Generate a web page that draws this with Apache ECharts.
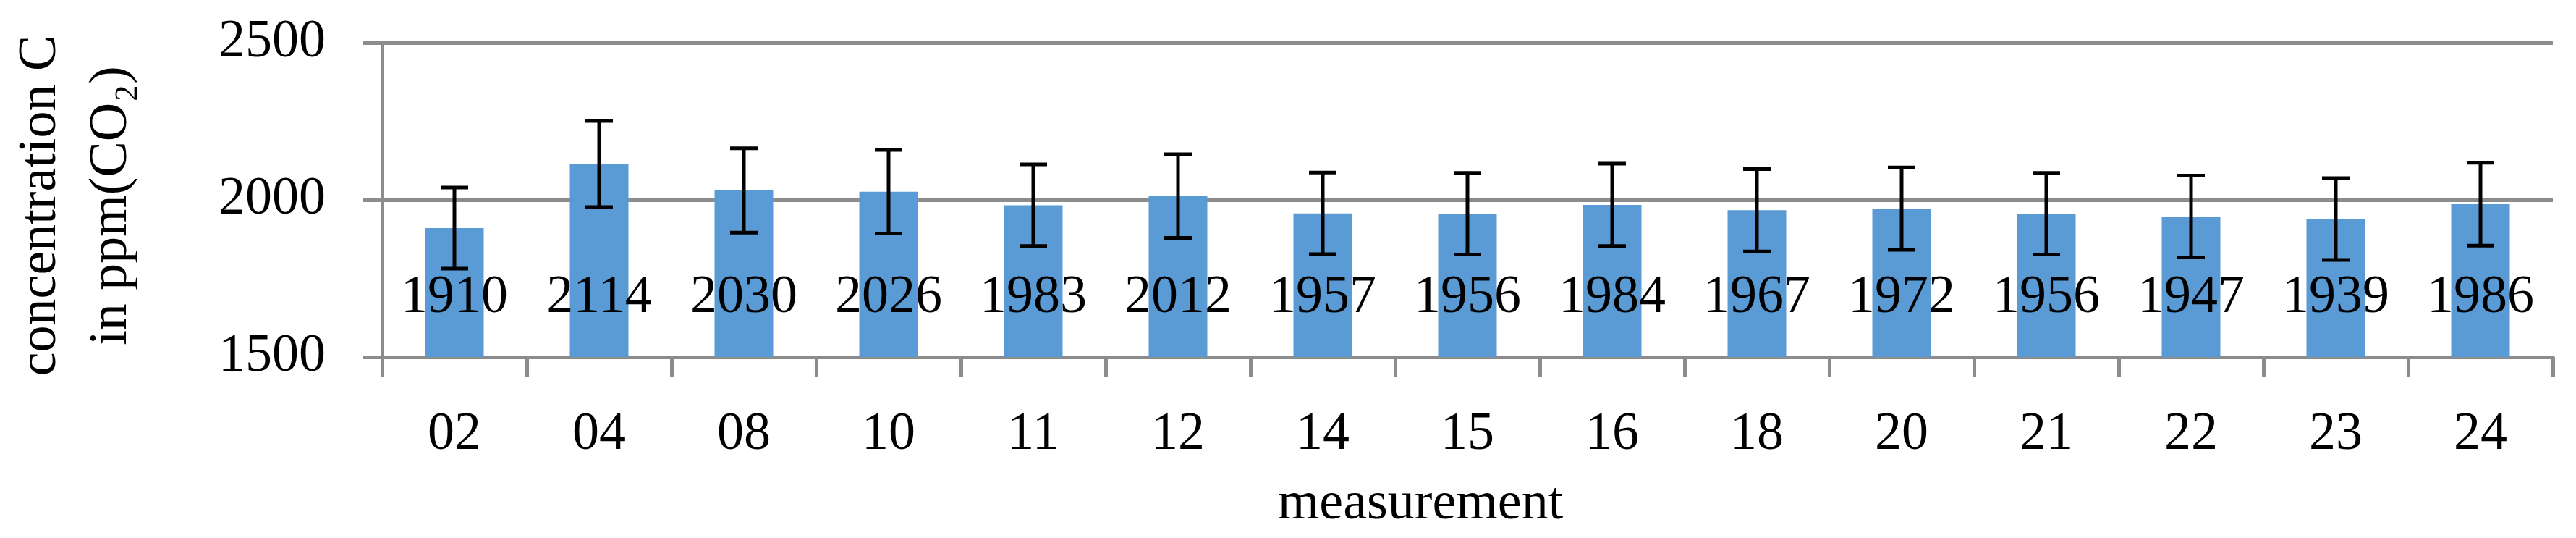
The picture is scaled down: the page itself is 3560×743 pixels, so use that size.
<!DOCTYPE html>
<html>
<head>
<meta charset="utf-8">
<script src="https://cdn.jsdelivr.net/npm/echarts@6/dist/echarts.min.js"></script>
<style>
html,body{margin:0;padding:0;background:#fff;}
#chart{width:3560px;height:743px;}
</style>
</head>
<body>
<div id="chart"></div>
<script>
// ---- data ----
const categories = ['02','04','08','10','11','12','14','15','16','18','20','21','22','23','24'];
const values = [1910,2114,2030,2026,1983,2012,1957,1956,1984,1967,1972,1956,1947,1939,1986];
const errors = [129,137,134,133,130,133,130,130,131,131,131,130,130,130,132];
const yMin = 1500;
const yMax = 2500;
const yStep = 500;
const xTitle = 'measurement';
const yTitle = 'concentration C\nin ppm(CO\u2082)';

const FONT = '"Liberation Serif", "DejaVu Serif", "Times New Roman", serif';
const GRID = '#8c8c8c';

const chart = echarts.init(document.getElementById('chart'), null, {renderer: 'canvas'});

const errData = categories.map((c, i) => [i, values[i], errors[i]]);

function renderErr(params, api) {
  const i = api.value(0), v = api.value(1), e = api.value(2);
  const top = api.coord([i, v + e]);
  const bot = api.coord([i, v - e]);
  const hw = 19;
  const st = {stroke: '#000', lineWidth: 5};
  return {
    type: 'group',
    children: [
      {type: 'line', shape: {x1: top[0], y1: top[1], x2: bot[0], y2: bot[1]}, style: st},
      {type: 'line', shape: {x1: top[0] - hw, y1: top[1], x2: top[0] + hw, y2: top[1]}, style: st},
      {type: 'line', shape: {x1: bot[0] - hw, y1: bot[1], x2: bot[0] + hw, y2: bot[1]}, style: st}
    ]
  };
}

chart.setOption({
  animation: false,
  backgroundColor: '#fff',
  textStyle: {fontFamily: FONT, color: '#000'},
  grid: {left: 528, right: 32, top: 59, bottom: 250, containLabel: false},
  xAxis: {
    type: 'category',
    data: categories,
    boundaryGap: true,
    name: xTitle,
    nameLocation: 'middle',
    nameGap: 167,
    nameTextStyle: {fontFamily: FONT, fontSize: 74, color: '#000', padding: [0, 130, 0, 0]},
    axisLine: {show: true, lineStyle: {color: GRID, width: 5}},
    axisTick: {show: true, alignWithLabel: false, length: 27, lineStyle: {color: GRID, width: 5}},
    axisLabel: {fontFamily: FONT, fontSize: 74, color: '#000', margin: 71, interval: 0},
    splitLine: {show: false}
  },
  yAxis: {
    type: 'value',
    min: yMin,
    max: yMax,
    interval: yStep,
    name: yTitle,
    nameLocation: 'middle',
    nameRotate: 90,
    nameGap: 324,
    nameTextStyle: {
      fontFamily: FONT, fontSize: 74, lineHeight: 98, color: '#000',
      align: 'center', padding: [0, 16, 0, 0]
    },
    axisLine: {show: true, lineStyle: {color: GRID, width: 5}},
    axisTick: {show: true, length: 27, lineStyle: {color: GRID, width: 5}},
    axisLabel: {
      fontFamily: FONT, fontSize: 74, color: '#000', margin: 78,
      formatter: (v) => String(v)
    },
    splitLine: {show: true, lineStyle: {color: GRID, width: 5}}
  },
  series: [
    {
      type: 'bar',
      data: values,
      barWidth: 81,
      itemStyle: {color: '#5b9bd5'},
      label: {
        show: true,
        position: ['50%', '100%'],
        align: 'center',
        verticalAlign: 'middle',
        offset: [0, -81],
        fontFamily: FONT,
        fontSize: 74,
        color: '#000'
      },
      z: 2
    },
    {
      type: 'custom',
      data: errData,
      encode: {x: 0, y: 1},
      renderItem: renderErr,
      z: 5,
      silent: true
    }
  ]
});
</script>
</body>
</html>
